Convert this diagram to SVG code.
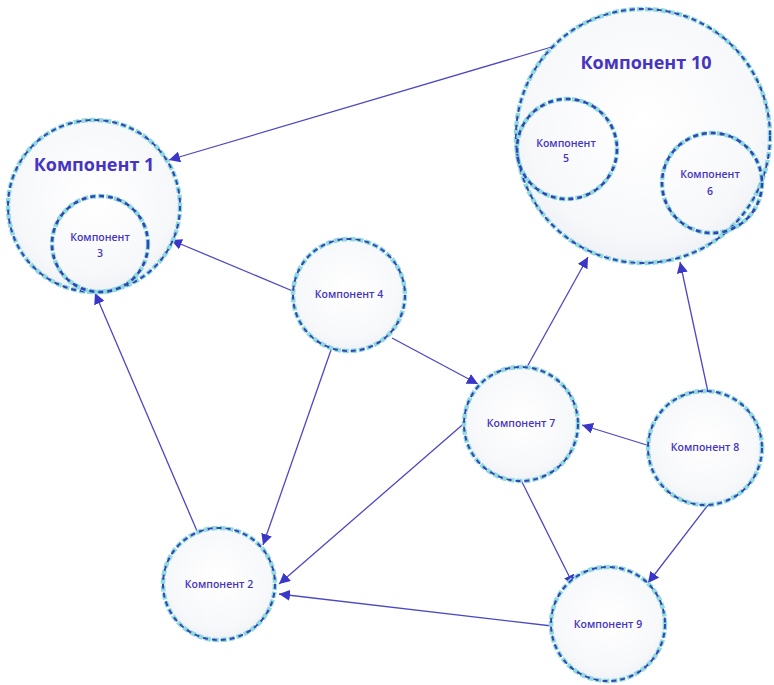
<svg xmlns="http://www.w3.org/2000/svg" width="774" height="685" viewBox="0 0 774 685">
<defs>
<radialGradient id="g" cx="0.5" cy="0.45" r="0.6">
<stop offset="0" stop-color="#ffffff"/>
<stop offset="0.75" stop-color="#f7f8fa"/>
<stop offset="1" stop-color="#eceef3"/>
</radialGradient>
<marker id="a" viewBox="0 0 10 10" refX="10" refY="5" markerWidth="11" markerHeight="11" markerUnits="userSpaceOnUse" orient="auto">
<path d="M0,0 L10,5 L0,10 z" fill="#3a36c8"/>
</marker>
<style>
.halo{fill:url(#g);stroke:#8fd9e0;stroke-width:4.5;stroke-dasharray:6 2}
.dash{fill:none;stroke:#2f47b0;stroke-width:2;stroke-dasharray:5 4}
.t{font-family:"Open Sans","Liberation Sans",sans-serif;fill:#4535c0;font-weight:600;text-anchor:middle}
.s{font-size:10.5px}
.b{font-size:18px;font-weight:700}
.e{stroke:#4d48c4;stroke-width:1.3;fill:none;marker-end:url(#a)}
</style>
</defs>
<rect width="774" height="685" fill="#ffffff"/>
<g id="connectors">
<line class="e" x1="555" y1="46" x2="169" y2="160"/>
<line class="e" x1="295" y1="292" x2="171" y2="240"/>
<line class="e" x1="197" y1="531" x2="95" y2="293"/>
<line class="e" x1="331" y1="350" x2="263" y2="545"/>
<line class="e" x1="392" y1="338" x2="478" y2="384"/>
<line class="e" x1="468" y1="420" x2="279" y2="584"/>
<line class="e" x1="552" y1="626" x2="279" y2="594"/>
<line class="e" x1="527" y1="367" x2="588" y2="257"/>
<line class="e" x1="708" y1="392" x2="680" y2="262"/>
<line class="e" x1="650" y1="446" x2="582" y2="425"/>
<line class="e" x1="521" y1="480" x2="574" y2="586"/>
<line class="e" x1="708" y1="505" x2="648" y2="583"/>
</g>
<g id="k1">
<circle class="halo" cx="94" cy="206" r="86"/>
<circle class="dash" cx="94" cy="206" r="86"/>
<text class="t b" x="94" y="171">Компонент 1</text>
</g>
<g id="k3">
<circle class="halo" cx="100" cy="244" r="48" style="fill:none"/>
<circle class="dash" cx="100" cy="244" r="48" style="stroke-width:2.6"/>
<text class="t s" x="100" y="241">Компонент</text>
<text class="t s" x="100" y="257">3</text>
</g>
<g id="k10">
<circle class="halo" cx="643" cy="136" r="127"/>
<circle class="dash" cx="643" cy="136" r="127"/>
<text class="t b" x="646" y="69">Компонент 10</text>
</g>
<g id="k5">
<circle class="halo" cx="567" cy="149" r="50" style="fill:none"/>
<circle class="dash" cx="567" cy="149" r="50" style="stroke-width:2.6"/>
<text class="t s" x="566" y="147">Компонент</text>
<text class="t s" x="566" y="162">5</text>
</g>
<g id="k6">
<circle class="halo" cx="712" cy="183" r="50" style="fill:none"/>
<circle class="dash" cx="712" cy="183" r="50" style="stroke-width:2.6"/>
<text class="t s" x="710" y="178">Компонент</text>
<text class="t s" x="710" y="195">6</text>
</g>
<g id="k4">
<circle class="halo" cx="349" cy="295" r="56"/>
<circle class="dash" cx="349" cy="295" r="56"/>
<text class="t s" x="349" y="298">Компонент 4</text>
</g>
<g id="k7">
<circle class="halo" cx="521" cy="424" r="57"/>
<circle class="dash" cx="521" cy="424" r="57"/>
<text class="t s" x="521" y="427">Компонент 7</text>
</g>
<g id="k8">
<circle class="halo" cx="705" cy="448" r="57"/>
<circle class="dash" cx="705" cy="448" r="57"/>
<text class="t s" x="705" y="451">Компонент 8</text>
</g>
<g id="k2">
<circle class="halo" cx="219" cy="584" r="56"/>
<circle class="dash" cx="219" cy="584" r="56"/>
<text class="t s" x="219" y="588">Компонент 2</text>
</g>
<g id="k9">
<circle class="halo" cx="608" cy="624" r="57"/>
<circle class="dash" cx="608" cy="624" r="57"/>
<text class="t s" x="608" y="628">Компонент 9</text>
</g>
</svg>
